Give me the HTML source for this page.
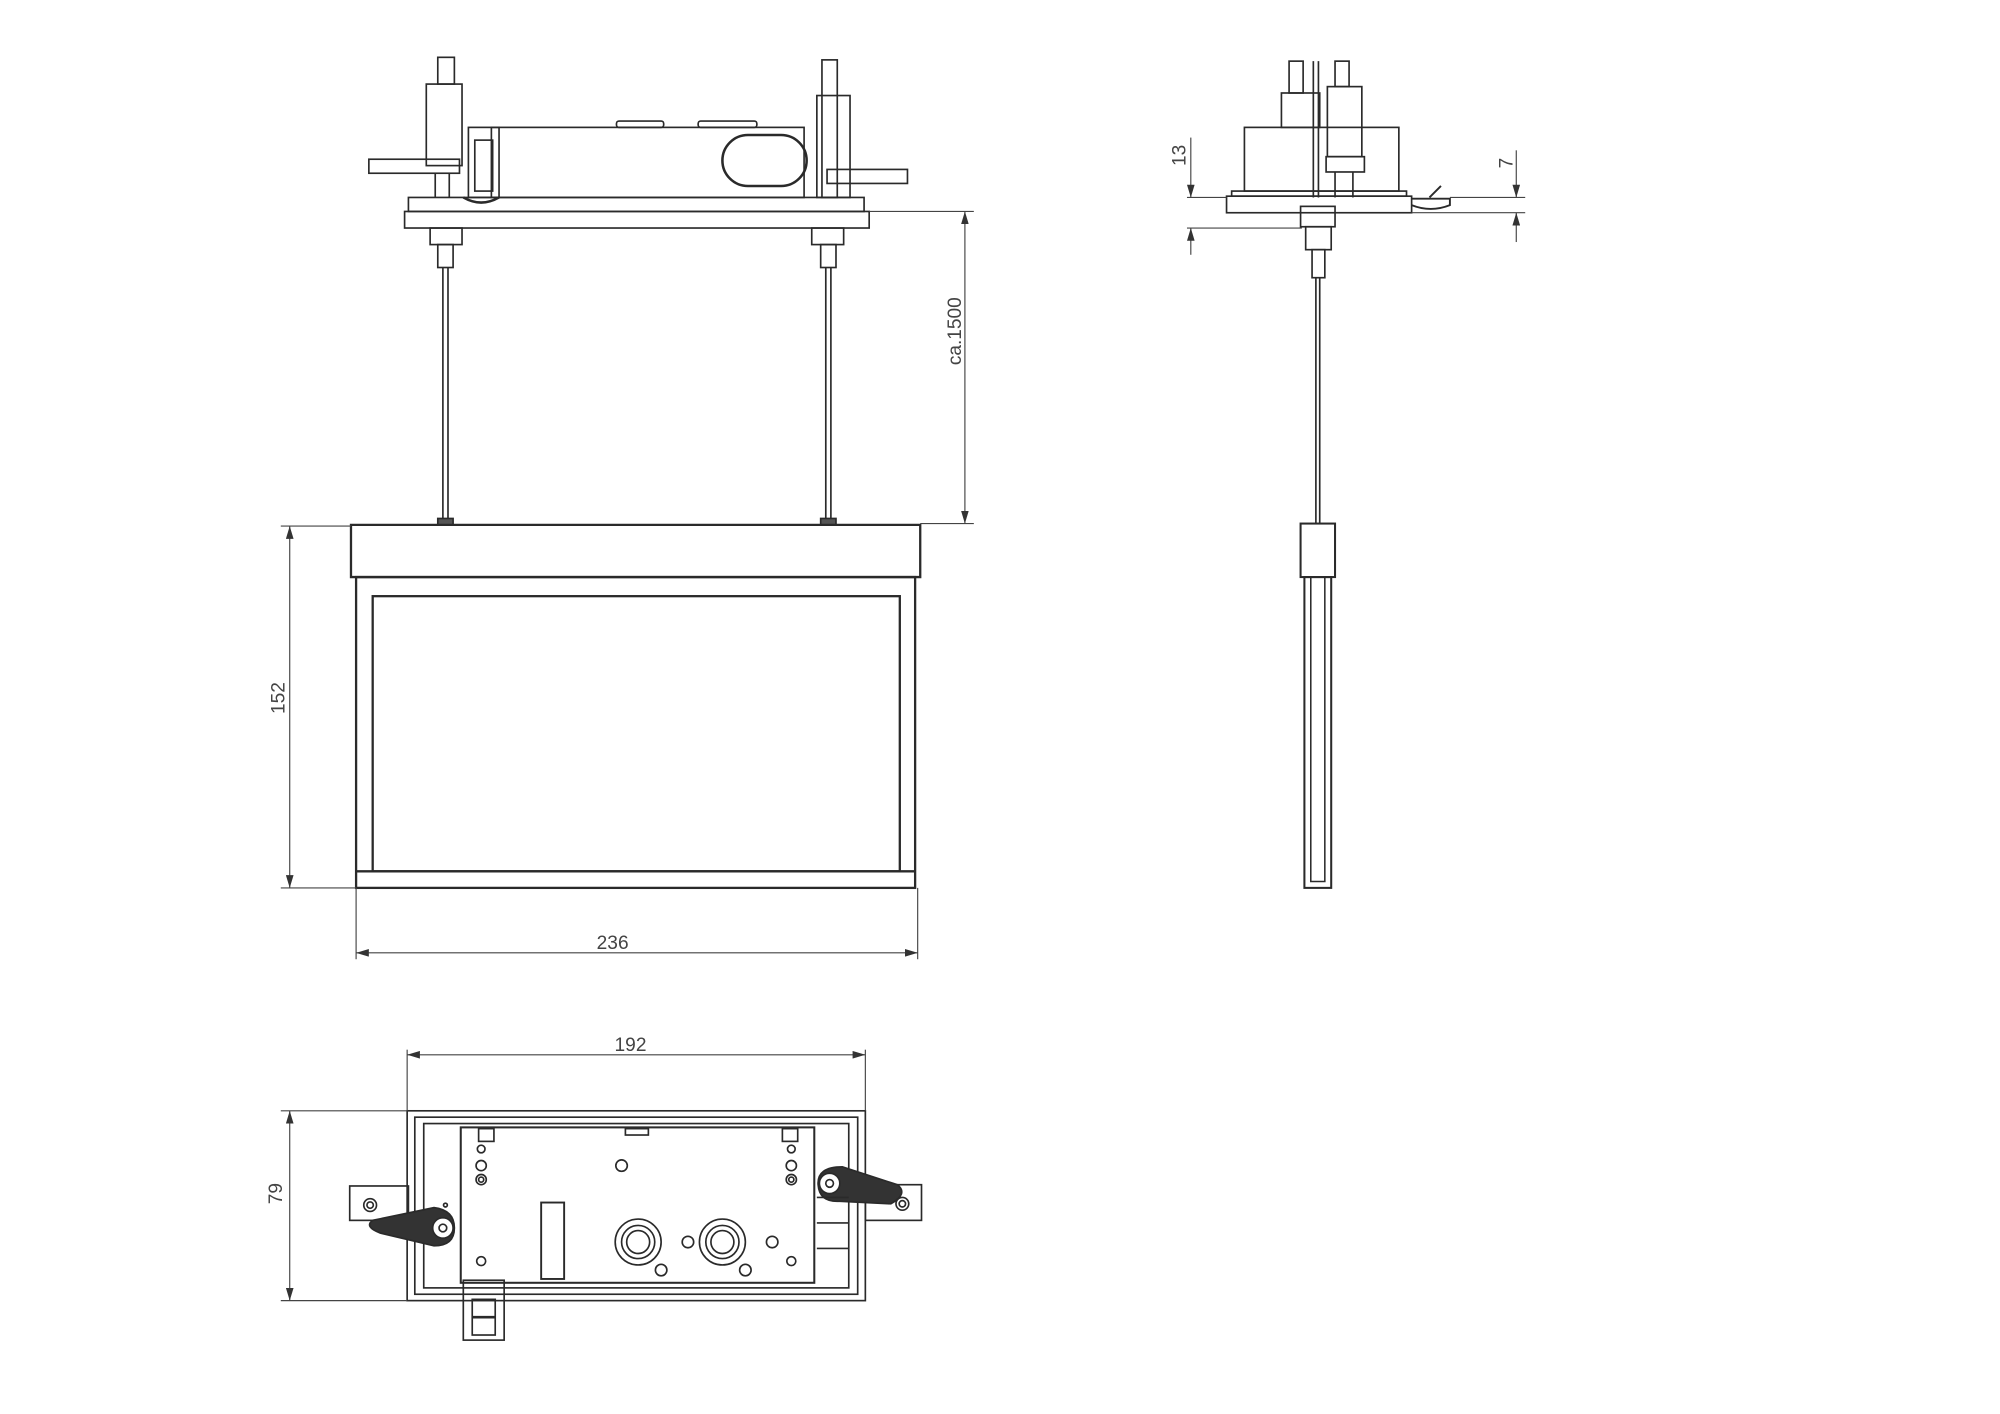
<!DOCTYPE html>
<html><head><meta charset="utf-8"><style>
html,body{margin:0;padding:0;background:#fff;}
svg{display:block;}
text{font-family:"Liberation Sans",sans-serif;fill:#444;font-size:15px;}
</style></head><body>
<svg width="2000" height="1414" viewBox="0 0 1567 1110" preserveAspectRatio="none" xmlns="http://www.w3.org/2000/svg">
<defs>
<marker id="a" viewBox="0 0 10 6" refX="10" refY="3" markerWidth="10" markerHeight="6" orient="auto-start-reverse" markerUnits="userSpaceOnUse"><path d="M0,0 L10,3 L0,6 z" fill="#333"/></marker>
</defs>
<g fill="none" stroke="#2a2a2a" stroke-width="1.3">
<rect x="317" y="166" width="364" height="13"/>
<rect x="320" y="155" width="357" height="11"/>
<rect x="385" y="100" width="245" height="55"/>
<rect x="483" y="95" width="37" height="5" rx="2"/>
<rect x="547" y="95" width="46" height="5" rx="2"/>
<rect x="566" y="106" width="66" height="40" rx="20" stroke-width="2"/>
<rect x="334" y="66" width="28" height="64"/>
<rect x="343" y="45" width="13" height="21"/>
<rect x="289" y="125" width="71" height="11"/>
<line x1="341" y1="136" x2="341" y2="155"/><line x1="352" y1="136" x2="352" y2="155"/>
<rect x="367" y="100" width="24" height="55"/>
<rect x="372" y="110" width="14" height="40"/>
<path d="M363,155 q14,8 28,0" stroke-width="2"/>
<rect x="640" y="75" width="26" height="80"/>
<rect x="644" y="47" width="12" height="108"/>
<rect x="648" y="133" width="63" height="11"/>
<rect x="337" y="179" width="25" height="13"/>
<rect x="343" y="192" width="12" height="18"/>
<rect x="636" y="179" width="25" height="13"/>
<rect x="643" y="192" width="12" height="18"/>
<line x1="347" y1="210" x2="347" y2="411"/><line x1="351" y1="210" x2="351" y2="411"/>
<line x1="647" y1="210" x2="647" y2="411"/><line x1="651" y1="210" x2="651" y2="411"/>
<rect x="343" y="407" width="12" height="5" fill="#555"/>
<rect x="643" y="407" width="12" height="5" fill="#555"/>
<path d="M275,412 L721,412 L721,453 L275,453 Z" stroke-width="1.8"/>
<rect x="279" y="453" width="438" height="244" stroke-width="1.8"/>
<line x1="279" y1="684" x2="717" y2="684" stroke-width="1.8"/>
<rect x="292" y="468" width="413" height="216" stroke-width="1.8"/>
<rect x="961" y="154" width="145" height="13"/>
<rect x="965" y="150" width="137" height="4"/>
<rect x="975" y="100" width="121" height="50"/>
<rect x="1004" y="73" width="30" height="27"/>
<rect x="1010" y="48" width="11" height="25"/>
<rect x="1040" y="68" width="27" height="55"/>
<rect x="1046" y="48" width="11" height="20"/>
<rect x="1039" y="123" width="30" height="12"/>
<line x1="1029" y1="48" x2="1029" y2="155"/><line x1="1033" y1="48" x2="1033" y2="155"/>
<line x1="1046" y1="135" x2="1046" y2="155"/><line x1="1060" y1="135" x2="1060" y2="155"/>
<path d="M1106,156 l30,0 0,5 q-15,6 -30,0 M1120,155 l9,-9" stroke-width="1.5"/>
<rect x="1019" y="162" width="27" height="16"/>
<rect x="1023" y="178" width="20" height="18"/>
<rect x="1028" y="196" width="10" height="22"/>
<line x1="1031" y1="218" x2="1031" y2="411"/><line x1="1034" y1="218" x2="1034" y2="411"/>
<rect x="1019" y="411" width="27" height="42" stroke-width="1.6"/>
<rect x="1022" y="453" width="21" height="244" stroke-width="1.6"/>
<path d="M1027,453 L1027,692 L1038,692 L1038,453" stroke-width="1.2"/>
<rect x="319" y="872" width="359" height="149"/>
<rect x="325" y="877" width="347" height="139"/>
<rect x="332" y="882" width="333" height="129"/>
<rect x="361" y="885" width="277" height="122" stroke-width="1.6"/>
<rect x="274" y="931" width="46" height="27"/>
<rect x="678" y="930" width="44" height="28"/>
<circle cx="290" cy="946" r="5"/><circle cx="290" cy="946" r="2.5"/>
<circle cx="707" cy="945" r="5"/><circle cx="707" cy="945" r="2.5"/>
<path d="M292,958 L340,948 Q356,950 356,964 Q356,978 340,978 L298,968 Q285,963 292,958 Z" fill="#333"/>
<circle cx="347" cy="964" r="8" fill="#fff"/><circle cx="347" cy="964" r="3"/>
<path d="M703,930 L660,916 Q640,916 641,930 Q642,944 658,943 L698,945 Q712,937 703,930 Z" fill="#333"/>
<circle cx="650" cy="929" r="8" fill="#fff"/><circle cx="650" cy="929" r="3"/>
<rect x="375" y="886" width="12" height="10"/>
<rect x="490" y="886" width="18" height="5"/>
<rect x="613" y="886" width="12" height="10"/>
<circle cx="377" cy="902" r="3"/><circle cx="377" cy="915" r="4"/><circle cx="377" cy="926" r="4"/><circle cx="377" cy="926" r="2"/>
<circle cx="487" cy="915" r="4.5"/>
<circle cx="620" cy="902" r="3"/><circle cx="620" cy="915" r="4"/><circle cx="620" cy="926" r="4"/><circle cx="620" cy="926" r="2"/>
<circle cx="349" cy="946" r="1.5"/>
<rect x="424" y="944" width="18" height="60" stroke-width="1.5"/>
<circle cx="500" cy="975" r="18"/><circle cx="500" cy="975" r="13"/><circle cx="500" cy="975" r="9"/>
<circle cx="566" cy="975" r="18"/><circle cx="566" cy="975" r="13"/><circle cx="566" cy="975" r="9"/>
<circle cx="539" cy="975" r="4.5"/><circle cx="605" cy="975" r="4.5"/>
<circle cx="518" cy="997" r="4.5"/><circle cx="584" cy="997" r="4.5"/>
<circle cx="377" cy="990" r="3.5"/><circle cx="620" cy="990" r="3.5"/>
<line x1="640" y1="940" x2="665" y2="940"/><line x1="640" y1="960" x2="665" y2="960"/><line x1="640" y1="980" x2="665" y2="980"/>
<rect x="363" y="1005" width="32" height="47"/>
<rect x="370" y="1020" width="18" height="28"/>
<line x1="370" y1="1034" x2="388" y2="1034" stroke-width="2"/>
</g>
<g stroke="#444" stroke-width="0.9" fill="none">
<line x1="681" y1="166" x2="763" y2="166"/><line x1="721" y1="411" x2="763" y2="411"/>
<line x1="756" y1="166" x2="756" y2="411" marker-start="url(#a)" marker-end="url(#a)"/>
<line x1="220" y1="413" x2="275" y2="413"/><line x1="220" y1="697" x2="279" y2="697"/>
<line x1="227" y1="413" x2="227" y2="697" marker-start="url(#a)" marker-end="url(#a)"/>
<line x1="279" y1="697" x2="279" y2="753"/><line x1="719" y1="697" x2="719" y2="753"/>
<line x1="279" y1="748" x2="719" y2="748" marker-start="url(#a)" marker-end="url(#a)"/>
<line x1="930" y1="155" x2="961" y2="155"/><line x1="930" y1="179" x2="1020" y2="179"/>
<line x1="933" y1="108" x2="933" y2="155" marker-end="url(#a)"/>
<line x1="933" y1="200" x2="933" y2="179" marker-end="url(#a)"/>
<line x1="1136" y1="155" x2="1195" y2="155"/><line x1="1106" y1="167" x2="1195" y2="167"/>
<line x1="1188" y1="118" x2="1188" y2="155" marker-end="url(#a)"/>
<line x1="1188" y1="190" x2="1188" y2="167" marker-end="url(#a)"/>
<line x1="319" y1="824" x2="319" y2="872"/><line x1="678" y1="824" x2="678" y2="872"/>
<line x1="319" y1="828" x2="678" y2="828" marker-start="url(#a)" marker-end="url(#a)"/>
<line x1="220" y1="872" x2="319" y2="872"/><line x1="220" y1="1021" x2="319" y2="1021"/>
<line x1="227" y1="872" x2="227" y2="1021" marker-start="url(#a)" marker-end="url(#a)"/>
</g>
<text x="480" y="745" text-anchor="middle">236</text>
<text x="494" y="825" text-anchor="middle">192</text>
<text transform="translate(223,548) rotate(-90)" text-anchor="middle">152</text>
<text transform="translate(753,260) rotate(-90)" text-anchor="middle">ca.1500</text>
<text transform="translate(929,122) rotate(-90)" text-anchor="middle">13</text>
<text transform="translate(1185,128) rotate(-90)" text-anchor="middle">7</text>
<text transform="translate(221,937) rotate(-90)" text-anchor="middle">79</text>
</svg>
</body></html>
